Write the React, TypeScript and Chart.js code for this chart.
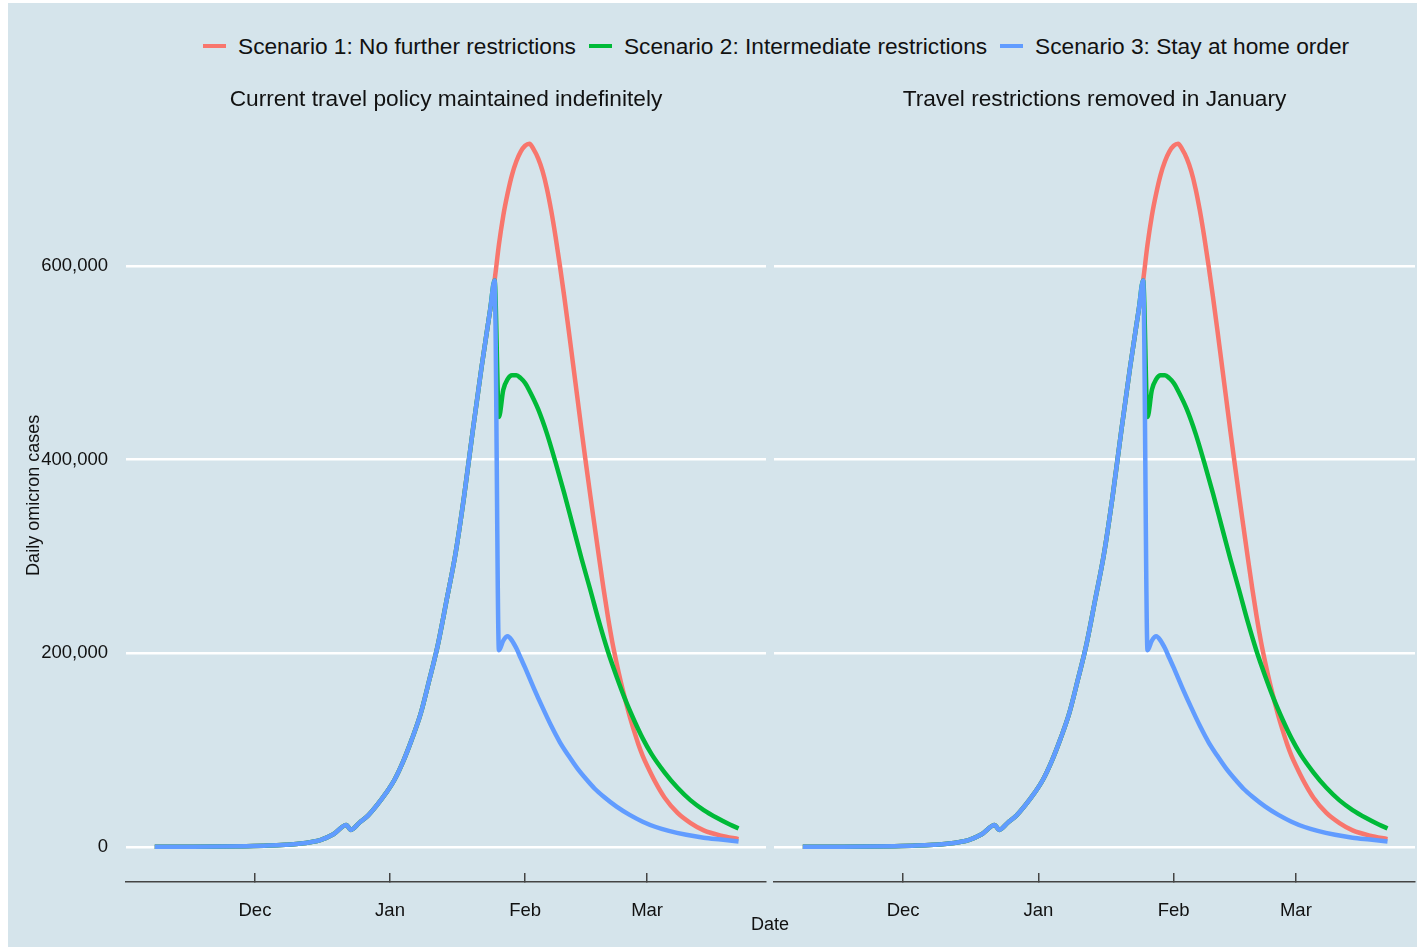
import React, { useEffect, useRef } from 'react';
import { Chart, registerables } from 'chart.js';

Chart.register(...registerables);
Chart.defaults.font.family = '"Liberation Sans", Arial, sans-serif';

// x values are days counted from 1 December
const monthTicks = [0, 31, 62, 90];
const monthLabels = ['Dec', 'Jan', 'Feb', 'Mar'];
const yTicks = [0, 200000, 400000, 600000];
const xRange = [-29.6, 117.3];
const yRange = [-36300, 762300];

const panelTitles = [
  'Current travel policy maintained indefinitely',
  'Travel restrictions removed in January',
];
const scenarioNames = [
  'Scenario 1: No further restrictions',
  'Scenario 2: Intermediate restrictions',
  'Scenario 3: Stay at home order',
];
const scenarioColors = ['#F8766D', '#00BA38', '#619CFF'];

// common trajectory before restrictions begin
const sharedDays = [-23, -15, -8, -2, 3, 7, 10, 13, 15, 18, 21, 22, 24, 26, 28, 30, 32, 34, 36, 38, 40, 42, 44, 46, 48, 50, 52, 54, 55];
const sharedCases = [0, 100, 300, 700, 1300, 2200, 3200, 5000, 7000, 13000, 22500, 17500, 25000, 32500, 43000, 55000, 69000, 88000, 111000, 137000, 172000, 209000, 255000, 302000, 362000, 430000, 495000, 555000, 585000];

// Scenario 1
const s1Days = [56, 57, 58, 59, 60, 61, 62, 63, 64, 65, 66, 67, 68, 69, 70, 71, 72, 73, 74, 75, 76, 77, 78, 79, 80, 81, 82, 83, 84, 85, 86, 87, 88, 89, 90, 92, 94, 97, 100, 103, 107, 111];
const s1Cases = [622000, 652000, 675000, 694000, 708000, 718000, 724000, 726000, 720000, 711000, 698000, 680000, 657000, 630000, 600000, 568000, 534000, 499000, 464000, 429000, 395000, 362000, 330000, 298000, 267000, 238000, 212000, 190000, 170000, 152000, 135000, 120000, 106000, 94000, 84000, 66000, 51000, 35000, 24500, 17000, 11500, 8000];

// Scenario 2
const s2Days = [56, 57, 58, 59, 60, 61, 62, 63, 65, 67, 69, 71, 73, 75, 77, 79, 81, 83, 85, 87, 89, 91, 94, 97, 100, 103, 106, 109, 111];
const s2Cases = [444000, 472000, 483000, 487000, 487000, 484000, 479000, 471000, 452000, 427000, 397000, 365000, 331000, 297000, 265000, 232000, 202000, 176000, 152000, 131000, 112000, 96000, 77000, 61000, 48000, 38000, 30000, 23000, 19000];

// Scenario 3
const s3Days = [56, 57, 58, 59, 60, 61, 62, 64, 66, 68, 70, 72, 74, 76, 78, 80, 83, 86, 89, 92, 95, 99, 103, 107, 111];
const s3Cases = [203000, 213000, 217500, 213000, 205000, 195000, 185000, 164000, 144000, 125000, 108000, 94000, 81000, 70000, 60000, 52000, 41500, 33000, 26000, 20500, 16500, 12500, 9500, 7500, 5500];

const tailDays = [s1Days, s2Days, s3Days];
const tailCases = [s1Cases, s2Cases, s3Cases];

function buildSeries(days: number[], cases: number[]) {
  const head = sharedDays.map((d, i) => ({ x: d, y: sharedCases[i] }));
  const tail = days.map((d, i) => ({ x: d, y: cases[i] }));
  return head.concat(tail);
}

const TEXT = '#111111';
const AXIS = '#444444';

type PanelProps = {
  index: number;
  left: number;
  width: number;
  height: number;
  showY: boolean;
  padLeft: number;
  padRight: number;
  yWidth: number;
};

function Panel({ index, left, width, height, showY, padLeft, padRight, yWidth }: PanelProps) {
  const ref = useRef<HTMLCanvasElement>(null);
  useEffect(() => {
    if (!ref.current) return;
    const chart = new Chart(ref.current, {
      type: 'line',
      data: {
        datasets: scenarioNames.map((name, i) => ({
          label: name,
          data: buildSeries(tailDays[i], tailCases[i]),
          borderColor: scenarioColors[i],
          backgroundColor: scenarioColors[i],
          borderWidth: 4.5,
          pointRadius: 0,
          cubicInterpolationMode: 'monotone' as const,
          fill: false,
          order: 3 - i,
        })),
      },
      options: {
        responsive: false,
        animation: false,
        events: [],
        layout: { padding: { top: 83, left: padLeft, right: padRight, bottom: 0 } },
        plugins: {
          legend: { display: false },
          tooltip: { enabled: false },
          title: {
            display: true,
            text: panelTitles[index],
            fullSize: false,
            color: TEXT,
            font: { size: 22.7, weight: 'normal', lineHeight: 1 },
            padding: { top: 2, bottom: -2 },
          },
        },
        scales: {
          x: {
            type: 'linear',
            min: xRange[0],
            max: xRange[1],
            afterBuildTicks: (s: any) => {
              s.ticks = monthTicks.map((v) => ({ value: v }));
            },
            afterFit: (s: any) => {
              s.height = 65;
            },
            ticks: {
              autoSkip: false,
              maxRotation: 0,
              padding: 27,
              color: TEXT,
              font: { size: 18.5 },
              callback: (v: any) => {
                const k = monthTicks.indexOf(Number(v));
                return k >= 0 ? monthLabels[k] : '';
              },
            },
            grid: { drawOnChartArea: false, drawTicks: true, tickLength: -9, color: AXIS, lineWidth: 1.5 },
            border: { display: true, color: AXIS, width: 1.5 },
          },
          y: {
            type: 'linear',
            min: yRange[0],
            max: yRange[1],
            afterBuildTicks: (s: any) => {
              s.ticks = yTicks.map((v) => ({ value: v }));
            },
            afterFit: (s: any) => {
              s.width = yWidth;
            },
            ticks: {
              display: showY,
              padding: 18,
              color: TEXT,
              font: { size: 18.5 },
              callback: (v: any) => Number(v).toLocaleString('en-US'),
            },
            grid: { color: '#ffffff', lineWidth: 2.5, drawTicks: false },
            border: { display: false },
            title: {
              display: showY,
              text: 'Daily omicron cases',
              color: TEXT,
              font: { size: 18 },
              padding: { top: 15, bottom: 0 },
            },
          },
        },
      },
    } as any);
    return () => chart.destroy();
  }, []);
  return (
    <canvas
      ref={ref}
      width={width}
      height={height}
      style={{ position: 'absolute', left, top: 0, width, height }}
    />
  );
}

export default function App() {
  return (
    <div
      style={{
        position: 'absolute',
        left: 8,
        top: 3,
        width: 1409,
        height: 944,
        background: '#d5e4eb',
        fontFamily: '"Liberation Sans", Arial, sans-serif',
        color: TEXT,
        overflow: 'hidden',
      }}
    >
      <div
        style={{
          position: 'absolute',
          left: 195,
          top: 28,
          height: 30,
          display: 'flex',
          alignItems: 'center',
          fontSize: 22.7,
          whiteSpace: 'nowrap',
        }}
      >
        {scenarioNames.map((n, i) => (
          <div key={n} style={{ display: 'flex', alignItems: 'center', marginRight: 13 }}>
            <span
              style={{
                display: 'inline-block',
                width: 23,
                height: 4.5,
                background: scenarioColors[i],
                marginRight: 12,
              }}
            />
            <span>{n}</span>
          </div>
        ))}
      </div>
      <Panel index={0} left={0} width={762} height={944} showY={true} padLeft={0} padRight={4} yWidth={118} />
      <Panel index={1} left={762} width={647} height={944} showY={false} padLeft={4} padRight={2} yWidth={0} />
      <div
        style={{
          position: 'absolute',
          left: 762 - 60,
          width: 120,
          top: 910,
          textAlign: 'center',
          fontSize: 18,
          lineHeight: '22px',
        }}
      >
        Date
      </div>
    </div>
  );
}
